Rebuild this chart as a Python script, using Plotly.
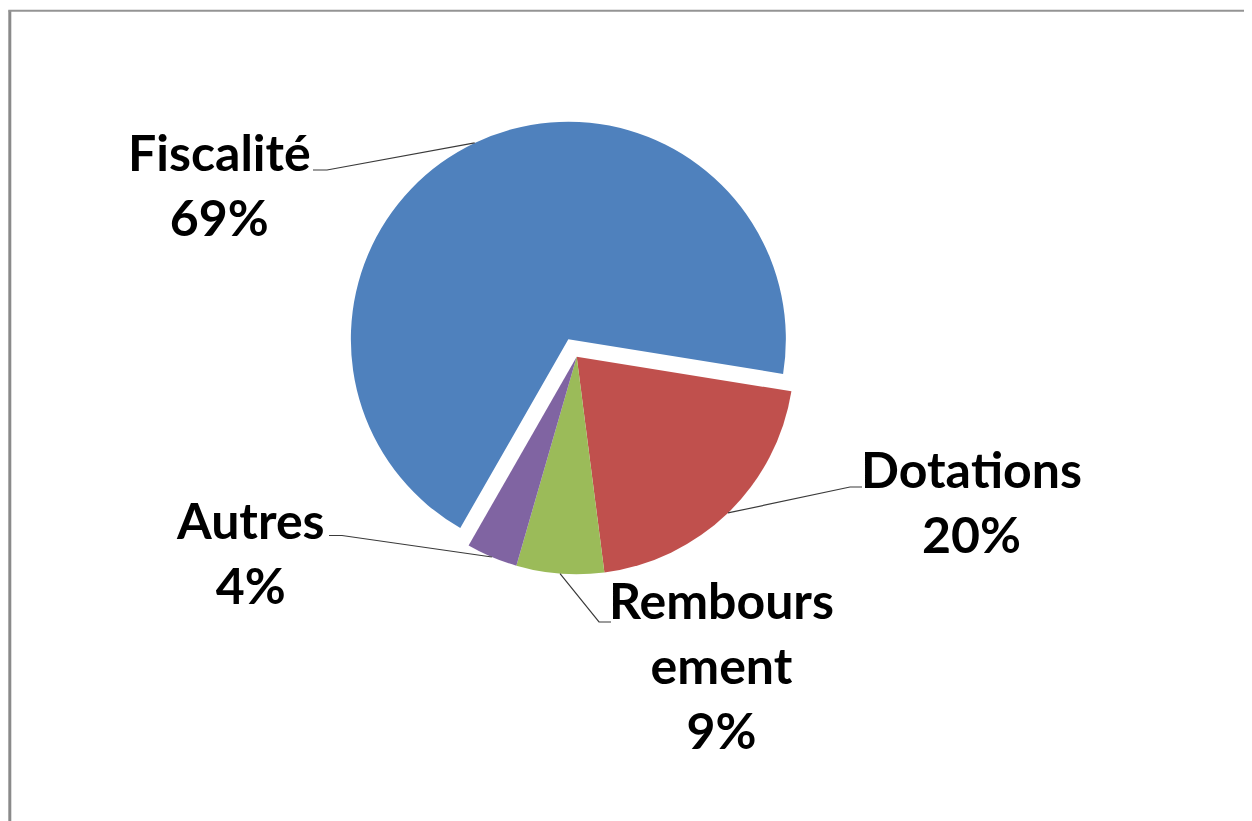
import math
import plotly.graph_objects as go

# ---- data ----
categories = ["Fiscalité", "Dotations", "Remboursement", "Autres"]
shares = [69.2, 20.4, 6.5, 3.8]              # slice sizes as drawn
# \u200c (zero-width non-joiner) keeps the font from fusing "ti" into a ligature
label_names = ["Fiscalité", "Dota\u200ctions", "Rembours<br>ement", "Autres"]
pct_labels = ["69%", "20%", "9%", "4%"]       # printed data labels
pulls = [0.089, 0, 0, 0]
colors = ["#4F81BD", "#C0504D", "#9BBB59", "#8064A2"]

# ---- layout geometry (pixels, page coordinates) ----
OFF = 8                      # default page margin around the plot div
W, H = 1252 - OFF, 821 - OFF
CX, CY = 576.7, 356.7
R = 217.5
ROT = 209.8
half = R * (1 + max(pulls))


def px(x):
    return (x - OFF) / W


def py(y):
    return 1 - (y - OFF) / H


dom_x = [px(CX - half), px(CX + half)]
dom_y = [py(CY + half), py(CY - half)]

# label centres and leader-line elbows / ends (pixels)
label_pos = [(219, 185), (971.5, 501), (721.7, 665), (250, 552)]
elbows = [((327, 170), (313, 170)),
          ((850, 487), (862, 487)),
          ((599, 622), (611, 622)),
          ((342, 535.5), (329, 535.5))]

fig = go.Figure(go.Pie(
    labels=categories,
    values=shares,
    sort=False,
    direction="clockwise",
    rotation=ROT,
    pull=pulls,
    marker=dict(colors=colors, line=dict(width=0)),
    textinfo="none",
    hoverinfo="label+percent",
    domain=dict(x=dom_x, y=dom_y),
    showlegend=False,
))

shapes = []
annotations = []
total = sum(shares)
cum = 0.0
for i, v in enumerate(shares):
    a0 = ROT + 360 * cum / total
    mid = math.radians(a0 + 360 * v / total / 2)
    cum += v
    ccx = CX + pulls[i] * R * math.sin(mid)
    ccy = CY - pulls[i] * R * math.cos(mid)
    sx = ccx + R * math.sin(mid)
    sy = ccy - R * math.cos(mid)
    (ex, ey), (tx, ty) = elbows[i]
    shapes.append(dict(
        type="path", xref="paper", yref="paper",
        path=f"M {px(sx)},{py(sy)} L {px(ex)},{py(ey)} L {px(tx)},{py(ty)}",
        line=dict(color="#3a3a3a", width=1.2),
    ))
    lx, ly = label_pos[i]
    annotations.append(dict(
        x=px(lx), y=py(ly), xref="paper", yref="paper",
        xanchor="center", yanchor="middle", showarrow=False,
        text=f"{label_names[i]}<br>{pct_labels[i]}",
        font=dict(family="Lato, 'Open Sans', sans-serif", size=50,
                  color="black", weight="bold"),
        align="center",
    ))

# chart-area frame (left and top edges visible)
shapes.append(dict(type="line", xref="paper", yref="paper",
                   x0=px(9.8), x1=px(9.8), y0=-0.05, y1=py(10.5),
                   line=dict(color="#8a8a8a", width=3)))
shapes.append(dict(type="line", xref="paper", yref="paper",
                   x0=px(8.3), x1=1.05, y0=py(10.8), y1=py(10.8),
                   line=dict(color="#949494", width=2)))

fig.update_layout(
    width=W, height=H,
    margin=dict(l=0, r=0, t=0, b=0),
    paper_bgcolor="white",
    plot_bgcolor="white",
    shapes=shapes,
    annotations=annotations,
)

fig.write_html("out.html")
